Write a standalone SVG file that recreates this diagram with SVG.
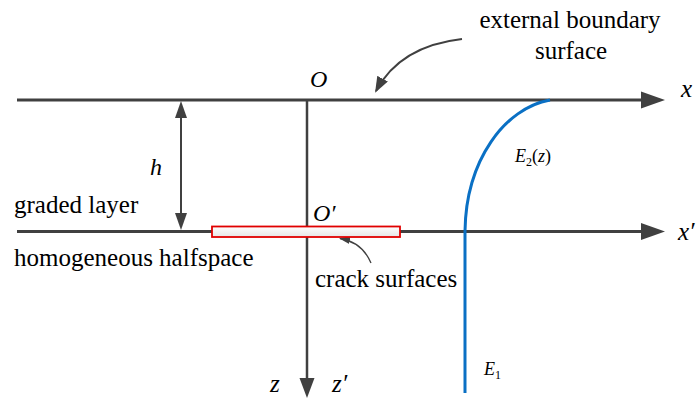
<svg xmlns="http://www.w3.org/2000/svg" width="699" height="402" viewBox="0 0 699 402">
<style>
.ax{stroke:#404040;stroke-width:3;fill:none}
.thin{stroke:#404040;stroke-width:2;fill:none}
.head{fill:#404040;stroke:none}
.t{font-family:"Liberation Serif","Times New Roman",serif;font-size:25px;fill:#000}
.i{font-family:"Liberation Serif","Times New Roman",serif;font-style:italic;fill:#000}
.blue{stroke:#0a70c4;stroke-width:3;fill:none}
</style>
<defs>
<linearGradient id="cg" x1="0" y1="0" x2="0" y2="1">
<stop offset="0" stop-color="#ffffff"/>
<stop offset="1" stop-color="#e6e6e6"/>
</linearGradient>
<marker id="ah" viewBox="0 0 16 12" refX="14" refY="6" markerWidth="16" markerHeight="12" markerUnits="userSpaceOnUse" orient="auto">
<path d="M0,0 L16,6 L0,12 z" fill="#404040"/>
</marker>
<marker id="ahs" viewBox="0 0 11 8" refX="10" refY="4" markerWidth="11" markerHeight="8" markerUnits="userSpaceOnUse" orient="auto">
<path d="M0,0 L11,4 L0,8 z" fill="#404040"/>
</marker>
</defs>
<g id="connectors">
<line class="ax" x1="17" y1="100" x2="648" y2="100"/>
<polygon class="head" points="641,91.5 665,100 641,108.5"/>
<line class="ax" x1="17" y1="231.5" x2="648" y2="231.5"/>
<polygon class="head" points="641,223 665,231.5 641,240"/>
<line class="ax" x1="307" y1="100" x2="307" y2="385" style="stroke-width:2.5"/>
<polygon class="head" points="299.5,378 307,398 314.5,378"/>
<line class="thin" x1="181" y1="112" x2="181" y2="219"/>
<polygon class="head" points="175,118 181,101 187,118"/>
<polygon class="head" points="175,213 181,230 187,213"/>
<path class="thin" d="M462,39 Q400,46 376,91" marker-end="url(#ah)"/>
<path class="thin" d="M371,263 Q362,242 340,238.5" style="stroke-width:1.3" marker-end="url(#ahs)"/>
</g>
<g id="crack">
<rect x="212" y="226.5" width="188" height="10.5" fill="url(#cg)" stroke="#e00000" stroke-width="1.8"/>
</g>
<g id="modulus">
<path class="blue" d="M550,100 C505,108 466,160 465,231 L465,393"/>
</g>
<g id="labels">
<text class="t" x="570" y="28" text-anchor="middle">external boundary</text>
<text class="t" x="571" y="59" text-anchor="middle">surface</text>
<text class="i" x="310" y="87" font-size="24">O</text>
<text class="i" x="681" y="97" font-size="25">x</text>
<text class="i" x="678" y="240" font-size="25">x′</text>
<text class="i" x="150" y="175" font-size="24">h</text>
<text class="t" x="14" y="213">graded layer</text>
<text class="t" x="14" y="266">homogeneous halfspace</text>
<text class="i" x="313" y="221" font-size="24">O′</text>
<text class="t" x="315" y="287">crack surfaces</text>
<text class="i" x="270" y="392" font-size="25">z</text>
<text class="i" x="332" y="392" font-size="25">z′</text>
<text class="i" x="515" y="162" font-size="18">E<tspan font-style="normal" font-size="12" dy="4">2</tspan><tspan font-style="normal" dy="-4">(</tspan>z<tspan font-style="normal">)</tspan></text>
<text class="i" x="484" y="375" font-size="18">E<tspan font-style="normal" font-size="12" dy="4">1</tspan></text>
</g>
</svg>
